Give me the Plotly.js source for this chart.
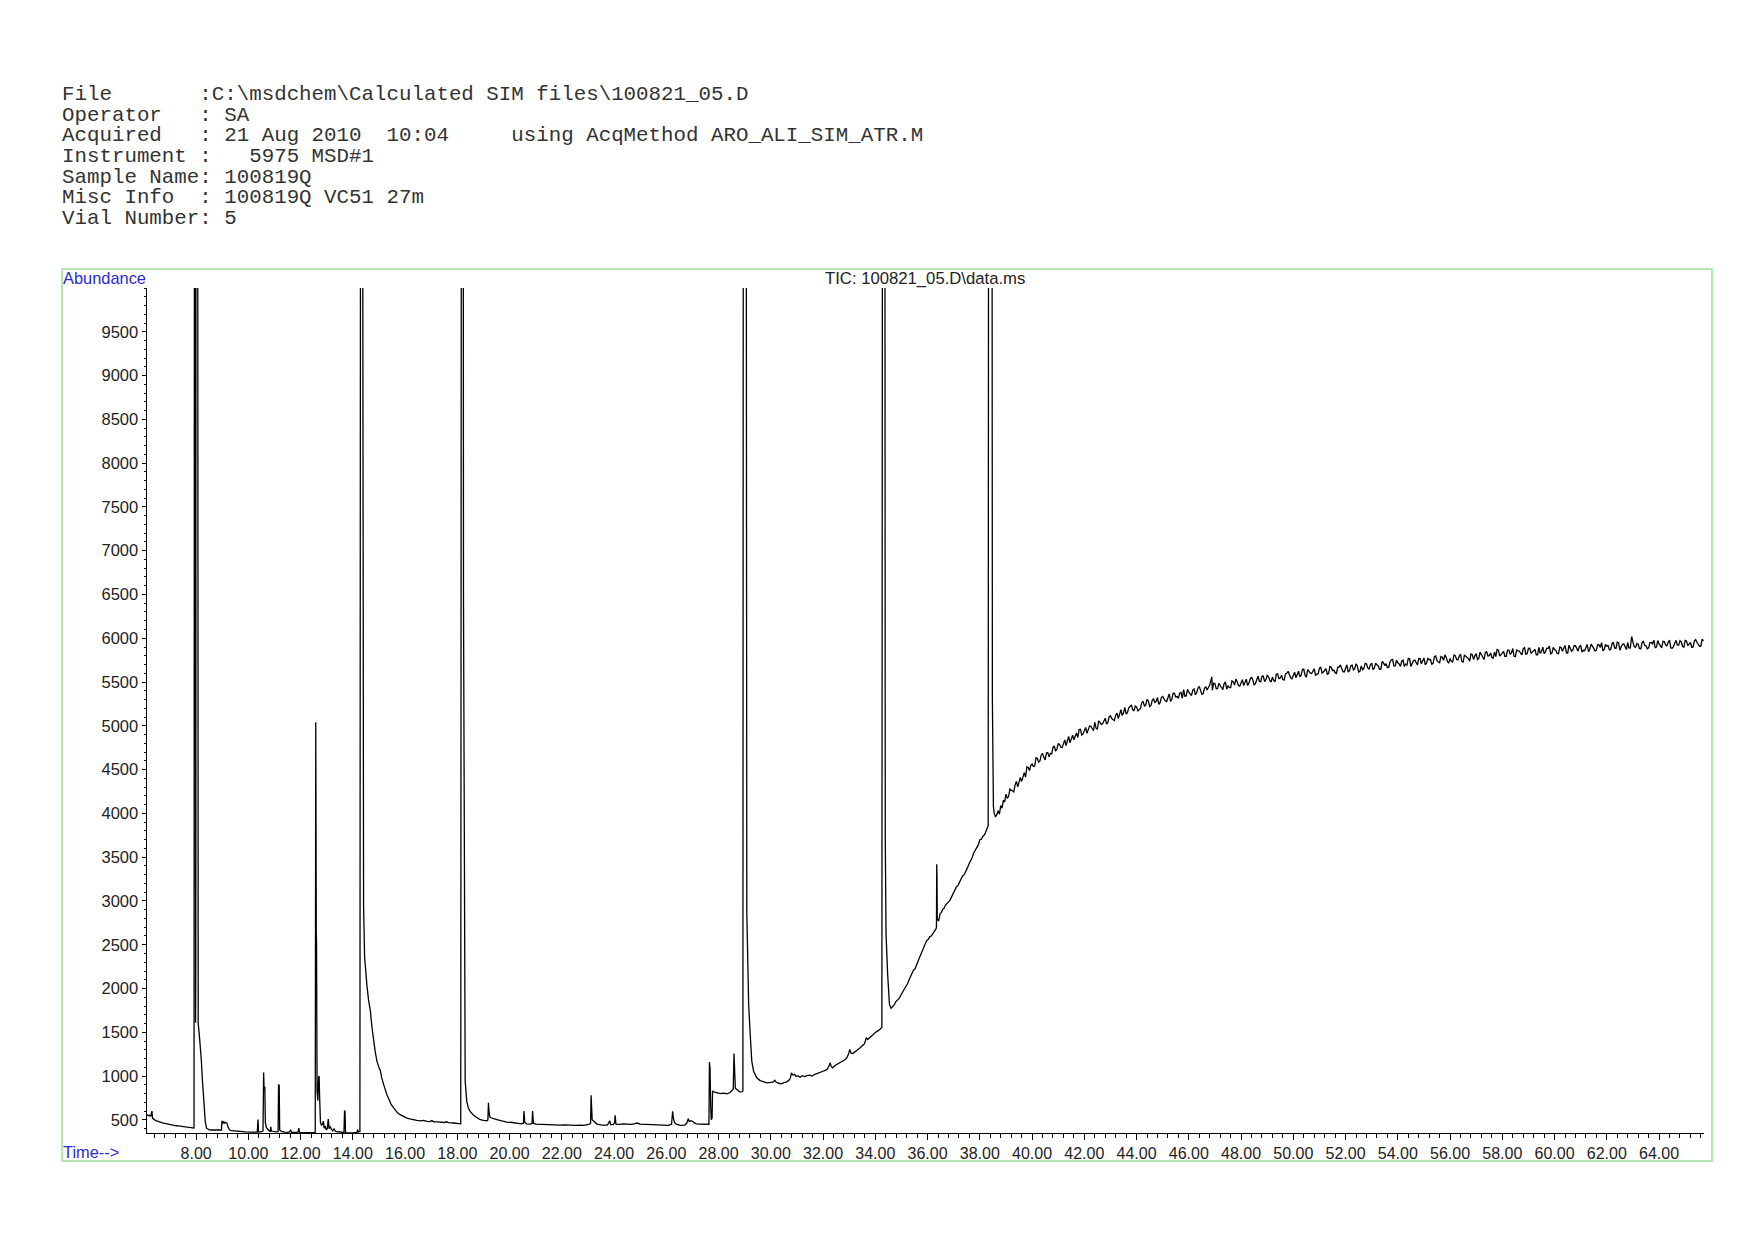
<!DOCTYPE html>
<html>
<head>
<meta charset="utf-8">
<script src="https://cdn.plot.ly/plotly-3.0.1.min.js"></script>
<style>
html,body{margin:0;padding:0;background:#ffffff;}
#chart{width:1754px;height:1240px;}
</style>
</head>
<body>
<div id="chart"></div>
<script>
// ---------- text ----------
const headerLines = [
  "File       :C:\\msdchem\\Calculated SIM files\\100821_05.D",
  "Operator   : SA",
  "Acquired   : 21 Aug 2010  10:04     using AcqMethod ARO_ALI_SIM_ATR.M",
  "Instrument :   5975 MSD#1",
  "Sample Name: 100819Q",
  "Misc Info  : 100819Q VC51 27m",
  "Vial Number: 5"
];
const chartTitle = "TIC: 100821_05.D\\data.ms";
const yAxisLabel = "Abundance";
const xAxisLabel = "Time-->";
const yTickValues = [500,1000,1500,2000,2500,3000,3500,4000,4500,5000,5500,6000,6500,7000,7500,8000,8500,9000,9500];

// ---------- data: [retention time (min), abundance] ----------
const scansStart = [
  [6.12,560],[6.17,548],[6.22,552],[6.26,540],[6.29,575],[6.31,600],[6.33,520],[6.38,505],[6.45,492],[6.52,486],
  [6.6,474],[6.68,468],[6.76,462],[6.85,455],[6.95,447],[7.05,442],[7.15,436],[7.25,433],[7.35,428],[7.45,424],
  [7.55,420],[7.65,416],[7.75,412],[7.85,409],[7.92,406]
];
const scansPeak8 = [
  [7.94,15000],[7.97,15000],[7.98,1610],[7.99,2430],[7.995,15000],[8.05,15000],[8.065,9700],[8.08,1600],[8.12,1480],
  [8.16,1365],[8.2,1180],[8.24,960],[8.28,770],[8.31,640],[8.35,480],[8.4,405],[8.45,390],[8.5,386]
];
const scansEarly = [
  [8.6,384],[8.7,382],[8.8,380],[8.9,382],[8.97,384],[8.99,490],[9.02,455],[9.05,482],[9.09,462],[9.13,470],
  [9.18,462],[9.22,420],[9.27,390],[9.35,376],[9.45,372],[9.6,368],[9.75,364],[9.9,362],[10.05,360],[10.2,358],
  [10.34,360],[10.37,505],[10.39,362],[10.48,362],[10.56,372],[10.585,1040],[10.6,870],[10.63,870],[10.65,470],[10.69,410],
  [10.75,388],[10.8,375],[10.84,372],[10.86,420],[10.88,372],[10.95,365],[11.05,362],[11.14,366],[11.155,905],[11.18,890],
  [11.2,385],[11.26,368],[11.4,360],[11.55,358],[11.62,385],[11.65,358],[11.8,356],[11.9,360],[11.93,405],[11.96,358],
  [12.1,355],[12.25,352],[12.4,352],[12.5,353],[12.56,358]
];
const scansPeak12 = [
  [12.58,5040],[12.6,2650],[12.61,2500],[12.63,830],[12.66,720],[12.69,1000],[12.71,990],[12.73,740],[12.76,470],[12.8,440],
  [12.84,450],[12.87,485],[12.9,405],[12.94,430],[12.98,385],[13.02,400],[13.06,510],[13.09,400],[13.13,420],[13.18,395],
  [13.23,375],[13.28,400],[13.33,370],[13.4,362],[13.5,366],[13.58,356],[13.66,358],[13.68,600],[13.7,600],[13.72,355],
  [13.8,350],[13.9,352],[14.0,350],[14.1,355],[14.16,358],[14.18,390],[14.21,362],[14.27,368]
];
const scansPeak14 = [
  [14.3,15000],[14.36,15000],[14.38,4860],[14.41,2950],[14.45,2360],[14.5,2150],[14.54,2030],[14.6,1870],[14.67,1745],[14.73,1560],
  [14.79,1400],[14.85,1290],[14.92,1171],[14.98,1110],[15.02,1080],[15.05,1070],[15.1,985],[15.18,903],[15.24,840],[15.3,789],
  [15.38,735],[15.46,680],[15.56,636],[15.65,600],[15.72,578],[15.81,559],[15.9,545],[16.0,530],[16.07,521],[16.18,512],
  [16.3,502],[16.45,494],[16.6,488],[16.7,494],[16.84,483],[16.95,481],[17.02,492],[17.1,478],[17.25,476],[17.34,475],
  [17.5,470],[17.58,478],[17.66,468],[17.85,464],[18.0,460],[18.13,455]
];
const scansPeak18 = [
  [18.16,15000],[18.22,15000],[18.235,6480],[18.245,5680],[18.26,4190],[18.28,1500],[18.3,942],[18.36,712],[18.42,636],[18.49,597],
  [18.6,559],[18.75,525],[18.88,502],[19.0,495],[19.13,490],[19.17,500],[19.19,695],[19.21,600],[19.24,535],[19.3,521],
  [19.4,510],[19.55,500],[19.7,488],[19.89,475],[20.1,470],[20.3,464],[20.45,455],[20.53,462],[20.55,600],[20.58,470],
  [20.65,455],[20.8,452],[20.86,460],[20.88,600],[20.91,462],[21.0,452],[21.2,448],[21.43,445],[21.6,440],[21.8,443],
  [21.94,440]
];
const scansMiddle = [
  [22.1,442],[22.25,438],[22.4,441],[22.55,436],[22.7,440],[22.85,437],[22.98,445],[23.06,450],[23.1,462],[23.12,781],
  [23.14,640],[23.16,502],[23.25,472],[23.34,452],[23.5,442],[23.62,438],[23.75,443],[23.83,490],[23.87,447],[23.97,446],
  [24.02,470],[24.04,552],[24.07,452],[24.2,449],[24.35,455],[24.49,452],[24.65,448],[24.8,456],[24.87,464],[25.0,452],
  [25.12,450],[25.25,453],[25.4,448],[25.6,446],[25.77,442],[25.92,440],[26.08,438],[26.2,452],[26.24,598],[26.27,520],
  [26.31,470],[26.38,450],[26.53,438],[26.7,440],[26.78,460],[26.84,513],[26.88,480],[26.94,490],[27.0,484],[27.06,468],
  [27.15,455],[27.25,452],[27.4,448],[27.55,445],[27.63,450],[27.65,1160],[27.67,1100],[27.7,640],[27.72,502],[27.75,520],
  [27.77,827],[27.82,820],[27.92,815],[28.06,800],[28.2,806],[28.32,797],[28.44,812],[28.5,827],[28.56,850],[28.59,1259],
  [28.61,1000],[28.64,860],[28.7,846],[28.8,820],[28.9,822],[28.93,830]
];
const scansPeak29 = [
  [28.95,15000],[29.05,15000],[29.08,2872],[29.15,1821],[29.21,1477],[29.27,1171],[29.34,1056],[29.4,1010],[29.46,980],[29.59,949],
  [29.7,935],[29.85,922],[30.0,928],[30.1,934],[30.15,952],[30.2,932],[30.3,918],[30.4,912],[30.5,925],[30.61,934],
  [30.7,955],[30.74,972],[30.79,1037],[30.84,1012],[30.9,1020],[30.96,998],[31.05,1002],[31.12,987],[31.2,1004],[31.3,995],
  [31.38,1005],[31.5,1010],[31.58,1000],[31.66,1018],[31.74,1025],[31.82,1037],[31.92,1045],[32.02,1058],[32.1,1068],[32.16,1080],
  [32.22,1112],[32.27,1152],[32.31,1110],[32.37,1094],[32.44,1118],[32.53,1133],[32.6,1140],[32.7,1162],[32.78,1171],[32.85,1190],
  [32.92,1215],[32.97,1248],[33.02,1305],[33.07,1262],[33.14,1258],[33.2,1272],[33.28,1285],[33.36,1308],[33.43,1325],[33.5,1348],
  [33.57,1362],[33.62,1400],[33.65,1439],[33.7,1418],[33.76,1432],[33.82,1445],[33.9,1470],[33.99,1496],[34.06,1505],[34.12,1522],
  [34.18,1534],[34.25,1556]
];
const scansPeak34 = [
  [34.28,15000],[34.36,15000],[34.38,3700],[34.41,2624],[34.47,2165],[34.54,1821],[34.6,1775],[34.64,1790],[34.68,1805],[34.73,1815],
  [34.78,1848],[34.82,1859],[34.87,1880],[34.92,1890],[34.97,1920],[35.02,1945],[35.08,1974],[35.13,1995],[35.18,2035],[35.24,2060],
  [35.3,2105],[35.35,2135],[35.4,2160],[35.46,2210],[35.52,2225],[35.57,2255],[35.62,2300],[35.68,2345],[35.72,2375],[35.78,2418],
  [35.84,2470],[35.9,2495],[35.96,2545],[36.02,2560],[36.08,2590],[36.14,2600],[36.2,2625],[36.26,2650],[36.32,2680],[36.34,2700],
  [36.35,3419],[36.36,3300],[36.37,2796],[36.42,2770],[36.48,2855],[36.53,2870],[36.58,2905],[36.63,2915],[36.68,2950],[36.74,2965],
  [36.8,2990],[36.86,3010],[36.92,3045],[36.98,3080],[37.04,3110],[37.1,3160],[37.16,3175],[37.22,3210],[37.28,3240],[37.34,3285],
  [37.4,3300],[37.46,3350],[37.52,3375],[37.58,3420],[37.64,3450],[37.7,3490],[37.76,3545],[37.82,3575],[37.88,3620],[37.94,3640],
  [38.0,3700],[38.06,3705],[38.12,3740],[38.18,3755],[38.24,3800],[38.3,3850],[38.32,3860]
];
const scansPeak38 = [
  [38.34,15000],[38.46,15000],[38.48,5300],[38.5,4380],[38.52,4076],[38.55,4000],[38.6,3960],[38.65,3985],[38.7,4030],[38.75,3990],
  [38.8,4090],[38.85,4060],[38.9,4150],[38.95,4130]
];
const scansLate = [
  [39.0,4220],[39.1,4195],[39.2,4265],[39.3,4245],[39.4,4365],[39.5,4350],[39.6,4365],[39.7,4465],[39.8,4530],[39.9,4490],
  [40.0,4565],[40.1,4540],[40.2,4630],[40.3,4600],[40.4,4685],[40.5,4610],[40.6,4695],[40.7,4685],[40.8,4755],[40.9,4710],
  [41.0,4795],[41.1,4755],[41.2,4810],[41.3,4775],[41.4,4880],[41.5,4850],[41.6,4841],[41.7,4917],[41.8,4958],[41.9,4894],
  [42.0,4945],[42.1,4914],[42.2,4998],[42.3,4962],[42.4,5041],[42.5,4960],[42.6,5039],[42.7,5023],[42.8,5087],[42.9,5036],
  [43.0,5115],[43.1,5071],[43.2,5122],[43.3,5083],[43.4,5184],[43.5,5150],[43.6,5135],[43.7,5205],[43.8,5240],[43.9,5170],
  [44.0,5215],[44.1,5182],[44.2,5264],[44.3,5226],[44.4,5303],[44.5,5220],[44.6,5291],[44.7,5267],[44.8,5323],[44.9,5264],
  [45.0,5335],[45.1,5283],[45.2,5326],[45.3,5279],[45.4,5372],[45.5,5330],[45.6,5313],[45.7,5381],[45.8,5414],[45.9,5342],
  [46.0,5385],[46.1,5346],[46.2,5422],[46.3,5378],[46.4,5449],[46.5,5360],[46.6,5432],[46.7,5409],[46.8,5466],[46.88,5560],
  [46.9,5408],[47.0,5480],[47.1,5424],[47.2,5463],[47.3,5412],[47.4,5501],[47.5,5455],[47.6,5436],[47.7,5502],[47.8,5533],
  [47.9,5459],[48.0,5500],[48.1,5459],[48.2,5533],[48.3,5487],[48.4,5556],[48.5,5465],[48.6,5535],[48.7,5510],[48.8,5565],
  [48.9,5505],[49.0,5575],[49.1,5518],[49.2,5556],[49.3,5504],[49.4,5592],[49.5,5545],[49.6,5526],[49.7,5592],[49.8,5623],
  [49.9,5549],[50.0,5590],[50.1,5549],[50.2,5623],[50.3,5577],[50.4,5646],[50.5,5555],[50.6,5624],[50.7,5598],[50.8,5652],
  [50.9,5591],[51.0,5660],[51.1,5603],[51.2,5641],[51.3,5589],[51.4,5677],[51.5,5630],[51.6,5607],[51.7,5669],[51.8,5696],
  [51.9,5618],[52.0,5655],[52.1,5613],[52.2,5686],[52.3,5639],[52.4,5707],[52.5,5615],[52.6,5683],[52.7,5656],[52.8,5709],
  [52.9,5647],[53.0,5715],[53.1,5659],[53.2,5697],[53.3,5646],[53.4,5734],[53.5,5688],[53.6,5666],[53.7,5730],[53.8,5758],
  [53.9,5682],[54.0,5720],[54.1,5678],[54.2,5750],[54.3,5703],[54.4,5770],[54.5,5678],[54.6,5745],[54.7,5718],[54.8,5770],
  [54.9,5708],[55.0,5775],[55.1,5718],[55.2,5755],[55.3,5703],[55.4,5790],[55.5,5743],[55.6,5720],[55.7,5783],[55.8,5810],
  [55.9,5733],[56.0,5770],[56.1,5728],[56.2,5800],[56.3,5753],[56.4,5820],[56.5,5728],[56.6,5795],[56.7,5768],[56.8,5820],
  [56.9,5758],[57.0,5825],[57.1,5769],[57.2,5808],[57.3,5757],[57.4,5846],[57.5,5800],[57.6,5779],[57.7,5843],[57.8,5872],
  [57.9,5796],[58.0,5835],[58.1,5792],[58.2,5864],[58.3,5816],[58.4,5883],[58.5,5790],[58.6,5857],[58.7,5829],[58.8,5881],
  [58.9,5818],[59.0,5885],[59.1,5827],[59.2,5863],[59.3,5810],[59.4,5896],[59.5,5848],[59.6,5824],[59.7,5886],[59.8,5912],
  [59.9,5834],[60.0,5870],[60.1,5827],[60.2,5899],[60.3,5851],[60.4,5918],[60.5,5825],[60.6,5892],[60.7,5864],[60.8,5916],
  [60.9,5853],[61.0,5920],[61.1,5862],[61.2,5899],[61.3,5846],[61.4,5933],[61.5,5885],[61.6,5862],[61.7,5924],[61.8,5951],
  [61.9,5873],[62.0,5910],[62.1,5867],[62.2,5938],[62.3,5890],[62.4,5956],[62.5,5863],[62.6,5929],[62.7,5901],[62.8,5952],
  [62.9,5889],[62.95,6020],[63.0,5955],[63.1,5896],[63.2,5932],[63.3,5878],[63.4,5964],[63.5,5915],[63.6,5891],[63.7,5952],
  [63.8,5978],[63.9,5899],[64.0,5935],[64.1,5891],[64.2,5962],[64.3,5913],[64.4,5979],[64.5,5885],[64.6,5951],[64.7,5922],
  [64.8,5973],[64.9,5909],[65.0,5975],[65.1,5916],[65.2,5952],[65.3,5898],[65.4,5984],[65.5,5934],[65.6,5910],[65.7,5970]
];
const scansLateBetween = [
  [39.05,4172],[39.15,4278],[39.25,4257],[39.35,4328],[39.45,4302],[39.55,4410],[39.65,4415],[39.75,4415],[39.85,4525],[39.95,4550],
  [40.05,4535],[40.15,4635],[40.25,4585],[40.35,4665],[40.45,4640],[40.55,4690],[40.65,4645],[40.75,4680],[40.85,4770],[40.95,4735],
  [41.05,4790],[41.15,4750],[41.25,4840],[41.35,4825],[41.45,4805],[41.55,4893],[41.65,4894],[41.75,4865],[41.85,4961],[41.95,4907],
  [42.05,4982],[42.15,4951],[42.25,4995],[42.35,4944],[42.45,4973],[42.55,5057],[42.65,5016],[42.75,5065],[42.85,5019],[42.95,5103],
  [43.05,5083],[43.15,5059],[43.25,5145],[43.35,5146],[43.45,5117],[43.55,5210],[43.65,5150],[43.75,5220],[43.85,5185],[43.95,5225],
  [44.05,5171],[44.15,5198],[44.25,5280],[44.35,5237],[44.45,5284],[44.55,5233],[44.65,5309],[44.75,5280],[44.85,5246],[44.95,5322],
  [45.05,5314],[45.15,5277],[45.25,5365],[45.35,5303],[45.45,5371],[45.55,5334],[45.65,5372],[45.75,5315],[45.85,5338],[45.95,5416],
  [46.05,5368],[46.15,5409],[46.25,5355],[46.35,5431],[46.45,5402],[46.55,5369],[46.65,5446],[46.75,5438],[46.95,5487],
  [47.05,5422],[47.15,5486],[47.25,5445],[47.35,5479],[47.45,5418],[47.55,5438],[47.65,5514],[47.75,5465],[47.85,5506],[47.95,5452],
  [48.05,5527],[48.15,5496],[48.25,5460],[48.35,5534],[48.45,5523],[48.55,5483],[48.65,5568],[48.75,5503],[48.85,5568],[48.95,5528],
  [49.05,5562],[49.15,5500],[49.25,5518],[49.35,5591],[49.45,5539],[49.55,5578],[49.65,5524],[49.75,5600],[49.85,5571],[49.95,5537],
  [50.05,5612],[50.15,5601],[50.25,5560],[50.35,5644],[50.45,5578],[50.55,5642],[50.65,5601],[50.75,5635],[50.85,5574],[50.95,5593],
  [51.05,5667],[51.15,5615],[51.25,5653],[51.35,5596],[51.45,5669],[51.55,5636],[51.65,5598],[51.75,5670],[51.85,5657],[51.95,5614],
  [52.05,5697],[52.15,5630],[52.25,5693],[52.35,5651],[52.45,5684],[52.55,5622],[52.65,5640],[52.75,5713],[52.85,5661],[52.95,5699],
  [53.05,5642],[53.15,5716],[53.25,5684],[53.35,5648],[53.45,5721],[53.55,5710],[53.65,5668],[53.75,5752],[53.85,5685],[53.95,5749],
  [54.05,5707],[54.15,5739],[54.25,5677],[54.35,5694],[54.45,5767],[54.55,5714],[54.65,5752],[54.75,5694],[54.85,5767],[54.95,5734],
  [55.05,5697],[55.15,5769],[55.25,5757],[55.35,5714],[55.45,5797],[55.55,5729],[55.65,5792],[55.75,5749],[55.85,5782],[55.95,5719],
  [56.05,5737],[56.15,5809],[56.25,5757],[56.35,5794],[56.45,5737],[56.55,5809],[56.65,5777],[56.75,5739],[56.85,5812],[56.95,5799],
  [57.05,5757],[57.15,5841],[57.25,5775],[57.35,5839],[57.45,5798],[57.55,5832],[57.65,5771],[57.75,5790],[57.85,5864],[57.95,5813],
  [58.05,5851],[58.15,5793],[58.25,5865],[58.35,5832],[58.45,5794],[58.55,5866],[58.65,5853],[58.75,5810],[58.85,5892],[58.95,5824],
  [59.05,5886],[59.15,5843],[59.25,5874],[59.35,5811],[59.45,5827],[59.55,5899],[59.65,5845],[59.75,5882],[59.85,5823],[59.95,5895],
  [60.05,5861],[60.15,5823],[60.25,5895],[60.35,5882],[60.45,5839],[60.55,5921],[60.65,5853],[60.75,5915],[60.85,5872],[60.95,5904],
  [61.05,5841],[61.15,5858],[61.25,5930],[61.35,5877],[61.45,5914],[61.55,5856],[61.65,5928],[61.75,5895],[61.85,5857],[61.95,5929],
  [62.05,5916],[62.15,5872],[62.25,5954],[62.35,5885],[62.45,5947],[62.55,5903],[62.65,5935],[62.75,5871],[62.85,5888],
  [63.05,5905],[63.15,5941],[63.25,5882],[63.35,5953],[63.45,5919],[63.55,5880],[63.65,5951],[63.75,5937],[63.85,5893],[63.95,5974],
  [64.05,5905],[64.15,5966],[64.25,5922],[64.35,5953],[64.45,5889],[64.55,5905],[64.65,5976],[64.75,5922],[64.85,5958],[64.95,5899],
  [65.05,5970],[65.15,5936],[65.25,5897],[65.35,5968],[65.45,5954],[65.55,5909],[65.65,5990]
];

const allScans = [].concat(scansStart, scansPeak8, scansEarly, scansPeak12, scansPeak14, scansPeak18,
  scansMiddle, scansPeak29, scansPeak34, scansPeak38, scansLate, scansLateBetween)
  .sort((a, b) => a[0] - b[0]);
const retentionTime = allScans.map(p => p[0]);
const abundance = allScans.map(p => p[1]);

// ---------- layout geometry (pixels) ----------
const W = 1754, H = 1240;
const M = {l: 147, r: 50, t: 288, b: 107};
const plotW = W - M.l - M.r, plotH = H - M.t - M.b;
const px2x = X => (X - M.l) / plotW;
const px2y = Y => (H - M.b - Y) / plotH;

const nb = s => s.replace(/ /g, "\u00A0");
const annotations = headerLines.map((line, i) => ({
  text: nb(line), xref: "paper", yref: "paper",
  x: px2x(61), y: px2y(94.5 + 20.65 * i), xanchor: "left", yanchor: "middle",
  showarrow: false, borderpad: 0,
  font: {family: "Liberation Mono, DejaVu Sans Mono, monospace", size: 20.8, color: "#333333"}
}));
annotations.push({
  text: yAxisLabel, xref: "paper", yref: "paper", x: px2x(62), y: px2y(278.5),
  xanchor: "left", yanchor: "middle", showarrow: false, borderpad: 0,
  font: {family: "Liberation Sans, Arial, sans-serif", size: 16.4, color: "#2a2ad6"}
});
annotations.push({
  text: xAxisLabel, xref: "paper", yref: "paper", x: px2x(62), y: px2y(1152),
  xanchor: "left", yanchor: "middle", showarrow: false, borderpad: 0,
  font: {family: "Liberation Sans, Arial, sans-serif", size: 16.4, color: "#2a2ad6"}
});
annotations.push({
  text: nb(chartTitle), xref: "paper", yref: "paper", x: px2x(925), y: px2y(278.5),
  xanchor: "center", yanchor: "middle", showarrow: false, borderpad: 0,
  font: {family: "Liberation Sans, Arial, sans-serif", size: 16.7, color: "#222222"}
});

const trace = {
  x: retentionTime, y: abundance, type: "scatter", mode: "lines",
  line: {color: "#000000", width: 1.3}, hoverinfo: "skip"
};

const layout = {
  width: W, height: H,
  margin: M,
  paper_bgcolor: "#ffffff", plot_bgcolor: "#ffffff",
  showlegend: false,
  font: {family: "Liberation Sans, Arial, sans-serif", color: "#222222"},
  xaxis: {
    range: [6.12, 65.72], showgrid: false, zeroline: false,
    showline: true, linecolor: "#000", linewidth: 1,
    ticks: "outside", ticklen: 6, tickwidth: 1, tickcolor: "#000",
    tickmode: "linear", tick0: 8, dtick: 2, tickformat: ".2f",
    tickfont: {size: 16, color: "#222222"},
    minor: {tickmode: "linear", tick0: 8, dtick: 0.4, ticks: "outside", ticklen: 3.5, tickcolor: "#000", showgrid: false}
  },
  yaxis: {
    range: [350, 10000], showgrid: false, zeroline: false,
    showline: true, linecolor: "#000", linewidth: 1,
    ticks: "outside", ticklen: 4.5, tickwidth: 1, tickcolor: "#000",
    tickmode: "array", tickvals: yTickValues, ticktext: yTickValues.map(String),
    tickfont: {size: 16.5, color: "#222222"},
    minor: {tickmode: "linear", tick0: 0, dtick: 100, ticks: "outside", ticklen: 2.5, tickcolor: "#000", showgrid: false}
  },
  shapes: [{
    type: "rect", xref: "paper", yref: "paper",
    x0: px2x(62), x1: px2x(1712), y0: px2y(1161), y1: px2y(269),
    line: {color: "#9be09b", width: 1.5}, fillcolor: "rgba(0,0,0,0)", layer: "below"
  }],
  annotations: annotations
};

Plotly.newPlot("chart", [trace], layout, {staticPlot: true, displayModeBar: false});
</script>
</body>
</html>
